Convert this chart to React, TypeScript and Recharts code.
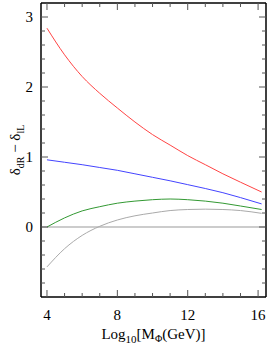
import { LineChart, Line, XAxis, YAxis, ReferenceLine, Label } from "recharts";

// log10 of the mass, shared by all curves
const logM = [4, 5, 6, 7, 8, 9, 10, 11, 12, 13, 14, 15, 16.2];
const redVals = [2.84, 2.46, 2.15, 1.91, 1.7, 1.5, 1.32, 1.17, 1.02, 0.89, 0.76, 0.64, 0.5];
const blueVals = [0.96, 0.925, 0.89, 0.85, 0.81, 0.76, 0.71, 0.66, 0.605, 0.55, 0.49, 0.42, 0.33];
const greenVals = [0, 0.13, 0.23, 0.29, 0.34, 0.37, 0.39, 0.4, 0.39, 0.37, 0.34, 0.3, 0.25];
const grayVals = [-0.57, -0.31, -0.12, 0.01, 0.1, 0.16, 0.2, 0.235, 0.25, 0.255, 0.25, 0.235, 0.195];

const xTicks = [4, 5, 6, 7, 8, 9, 10, 11, 12, 13, 14, 15, 16];
const yTicks = [-0.8, -0.6, -0.4, -0.2, 0, 0.2, 0.4, 0.6, 0.8, 1, 1.2, 1.4, 1.6, 1.8, 2, 2.2, 2.4, 2.6, 2.8, 3];

const data = logM.map((x, i) => ({
  x,
  red: redVals[i],
  blue: blueVals[i],
  green: greenVals[i],
  gray: grayVals[i],
}));

const serif = { fontFamily: "'Liberation Serif', 'Times New Roman', serif" };
const isMajorX = (v: number) => v % 4 === 0;
const isMajorY = (v: number) => Math.abs(v - Math.round(v)) < 1e-6;

const BottomTick = (p: any) => {
  const v = p.payload.value;
  const major = isMajorX(v);
  return (
    <g>
      <line x1={p.x} x2={p.x} y1={p.y} y2={p.y - (major ? 7 : 4)} stroke="#555" />
      {major && (
        <text x={p.x} y={p.y + 23} textAnchor="middle" fontSize={15} style={serif} fill="#000">
          {v}
        </text>
      )}
    </g>
  );
};

const TopTick = (p: any) => {
  const major = isMajorX(p.payload.value);
  return <line x1={p.x} x2={p.x} y1={p.y} y2={p.y + (major ? 7 : 4)} stroke="#555" />;
};

const LeftTick = (p: any) => {
  const v = p.payload.value;
  const major = isMajorY(v);
  return (
    <g>
      <line x1={p.x} x2={p.x + (major ? 7 : 4)} y1={p.y} y2={p.y} stroke="#555" />
      {major && (
        <text x={p.x - 8} y={p.y + 5} textAnchor="end" fontSize={15} style={serif} fill="#000">
          {Math.round(v)}
        </text>
      )}
    </g>
  );
};

const RightTick = (p: any) => {
  const major = isMajorY(p.payload.value);
  return <line x1={p.x} x2={p.x - (major ? 7 : 4)} y1={p.y} y2={p.y} stroke="#555" />;
};

const XTitle = (p: any) => {
  const vb = p.viewBox;
  return (
    <text x={vb.x + vb.width / 2} y={vb.y + 42} textAnchor="middle" fontSize={15} style={serif} fill="#000">
      Log<tspan fontSize={11} dy={4}>10</tspan>
      <tspan dy={-4}>[M</tspan>
      <tspan fontSize={10} dy={3}>Φ</tspan>
      <tspan dy={-3}>(GeV)]</tspan>
    </text>
  );
};

const YTitle = (p: any) => {
  const vb = p.viewBox;
  const cx = vb.x + 20;
  const cy = vb.y + vb.height / 2;
  return (
    <text x={cx} y={cy} transform={`rotate(-90, ${cx}, ${cy})`} textAnchor="middle" fontSize={15} style={serif} fill="#000">
      δ<tspan fontSize={10} dy={4}>dR</tspan>
      <tspan dy={-4}> − δ</tspan>
      <tspan fontSize={10} dy={4}>lL</tspan>
    </text>
  );
};

export default function App() {
  return (
    <div style={{ position: "absolute", left: 0, top: 0, background: "#fff" }}>
      <LineChart width={267} height={347} data={data} margin={{ top: 2, right: 0, bottom: 0, left: 0 }}>
        <XAxis
          dataKey="x"
          type="number"
          domain={[3.66, 16.45]}
          ticks={xTicks}
          interval={0}
          height={50}
          tickSize={0}
          tickMargin={0}
          tickLine={false}
          axisLine={{ stroke: "#000", strokeWidth: 1.5 }}
          tick={BottomTick}
        >
          <Label content={XTitle} />
        </XAxis>
        <XAxis
          xAxisId="top"
          orientation="top"
          dataKey="x"
          type="number"
          domain={[3.66, 16.45]}
          ticks={xTicks}
          interval={0}
          height={1}
          tickSize={0}
          tickMargin={0}
          tickLine={false}
          axisLine={{ stroke: "#000", strokeWidth: 1.5 }}
          tick={TopTick}
        />
        <YAxis
          type="number"
          domain={[-1, 3.2]}
          ticks={yTicks}
          interval={0}
          width={41}
          tickSize={0}
          tickMargin={0}
          tickLine={false}
          axisLine={{ stroke: "#000", strokeWidth: 1.5 }}
          tick={LeftTick}
        >
          <Label content={YTitle} />
        </YAxis>
        <YAxis
          yAxisId="right"
          orientation="right"
          type="number"
          domain={[-1, 3.2]}
          ticks={yTicks}
          interval={0}
          width={1}
          tickSize={0}
          tickMargin={0}
          tickLine={false}
          axisLine={{ stroke: "#000", strokeWidth: 1.5 }}
          tick={RightTick}
        />
        <ReferenceLine y={0} stroke="#999" strokeWidth={1} />
        {/* invisible series so the mirrored top/right axes get drawn */}
        <Line xAxisId="top" yAxisId="right" dataKey="red" stroke="none" dot={false} legendType="none" isAnimationActive={false} />
        <Line type="monotone" dataKey="red" stroke="#ff4444" strokeWidth={1} dot={false} isAnimationActive={false} />
        <Line type="monotone" dataKey="blue" stroke="#4444ff" strokeWidth={1} dot={false} isAnimationActive={false} />
        <Line type="monotone" dataKey="green" stroke="#339933" strokeWidth={1} dot={false} isAnimationActive={false} />
        <Line type="monotone" dataKey="gray" stroke="#aaaaaa" strokeWidth={1} dot={false} isAnimationActive={false} />
      </LineChart>
    </div>
  );
}
